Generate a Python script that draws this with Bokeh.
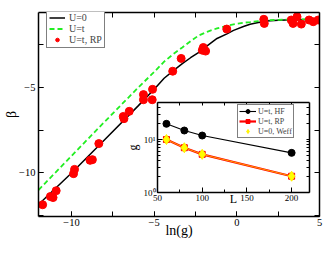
from bokeh.plotting import figure
from bokeh.layouts import column
from bokeh.models import (LinearAxis, LogAxis, FixedTicker, Legend, LegendItem)
from bokeh.embed import file_html
from bokeh.resources import INLINE

# ---- main panel data ----
lng_u0 = [-12, -10, -8, -6, -5, -4.4, -3.8, -3.3, -2.8, -2.3, -1.8, -1.2, -0.6, -0.2, 0.4, 0.8, 1.3, 1.8, 2.5, 3.5, 5]
beta_u0 = [-11.85, -10.0, -8.05, -6.1, -5.1, -4.45, -3.98, -3.6, -3.25, -2.93, -2.55, -2.12, -1.85, -1.65, -1.42, -1.29, -1.18, -1.1, -1.05, -1.02, -1.0]

lng_ut = [-12, -10, -8, -6, -5, -4.4, -3.8, -3.3, -2.8, -2.3, -1.8, -1.2, -0.6, -0.2, 0.4, 0.8, 1.3, 1.8, 2.5, 3.5, 5]
beta_ut = [-11.0, -9.0, -7.0, -5.03, -4.08, -3.48, -3.0, -2.65, -2.28, -1.94, -1.73, -1.53, -1.38, -1.29, -1.2, -1.16, -1.1, -1.06, -1.03, -1.01, -1.0]

lng_rp = [-11.75, -11.28, -11.12, -10.93, -9.82, -9.88, -8.88, -8.74, -8.35,
          -6.87, -6.83, -6.51, -5.65, -5.65, -5.10, -5.12,
          -3.88, -3.37, -2.03, -2.09, -1.89, -0.61, 1.63, 1.66, 3.29, 3.40, 3.64, 3.90, 4.37, 4.62, 4.92]
beta_rp = [-11.86, -11.38, -11.44, -11.04, -9.79, -10.04, -9.26, -9.22, -8.28,
           -6.69, -6.82, -6.39, -5.41, -5.71, -5.10, -5.71,
           -4.04, -3.29, -2.65, -2.81, -2.86, -1.57, -1.0, -1.24, -1.04, -1.24, -0.85, -1.28, -1.04, -1.14, -1.04]

# ---- inset data ----
L_vals = [60, 80, 100, 200]
g_hf = [19.8, 14.8, 11.9, 5.6]
g_rp = [10.0, 7.0, 5.25, 2.03]
g_weff = [10.0, 7.0, 5.25, 2.03]

# tick positions
main_x_ticks = [-10, -5, 0, 5]
main_y_ticks = [-10, -5]
main_x_minor = [-12.5, -10, -7.5, -5, -2.5, 0, 2.5, 5]
main_y_minor = [-12.5, -10, -7.5, -5, -2.5]
inset_x_ticks = [50, 100, 150, 200]
inset_x_minor = [50, 75, 100, 125, 150, 175, 200]
inset_y_ticks = [1, 10]
inset_y_minor = [2, 3, 4, 5, 6, 7, 8, 9, 20, 30, 40]

FONT = "Liberation Serif"

p = figure(width=325, height=247, x_range=(-12, 5), y_range=(-12.55, -0.6),
           output_backend="svg", toolbar_location=None,
           min_border_left=37, min_border_right=6, min_border_top=12, min_border_bottom=31)
p.grid.visible = False
p.outline_line_color = None
p.background_fill_color = "white"

def style_axis(ax, tick_in=5, font="10.5px", standoff=2):
    ax.axis_line_width = 1.5
    ax.axis_line_color = "black"
    ax.major_tick_in = tick_in
    ax.major_tick_out = 0
    ax.minor_tick_in = tick_in
    ax.minor_tick_out = 0
    ax.major_tick_line_color = "black"
    ax.minor_tick_line_color = "black"
    ax.major_label_text_font = FONT
    ax.major_label_text_font_size = font
    ax.major_label_text_color = "black"
    ax.major_label_standoff = standoff
    ax.axis_label_standoff = 0
    ax.axis_label_text_font = FONT
    ax.axis_label_text_font_style = "normal"
    ax.axis_label_text_color = "black"

p.xaxis.ticker = FixedTicker(ticks=main_x_ticks, minor_ticks=main_x_minor)
p.yaxis.ticker = FixedTicker(ticks=main_y_ticks, minor_ticks=main_y_minor)
for ax in p.xaxis + p.yaxis:
    style_axis(ax, standoff=3)
p.xaxis.major_label_standoff = 2
p.xaxis.axis_label = "ln(g)"
p.yaxis.axis_label = "β"
p.xaxis.axis_label_text_font_size = "14px"
p.yaxis.axis_label_text_font_size = "14px"
p.xaxis.axis_label_standoff = -6
p.yaxis.axis_label_standoff = -3

# mirror axes: ticks only (no labels)
top_ax = LinearAxis(ticker=FixedTicker(ticks=[], minor_ticks=main_x_minor))
right_ax = LinearAxis(ticker=FixedTicker(ticks=[], minor_ticks=main_y_minor))
style_axis(top_ax, standoff=0)
style_axis(right_ax, standoff=0)
p.add_layout(top_ax, "above")
p.add_layout(right_ax, "right")

r0 = p.line(lng_u0, beta_u0, line_color="black", line_width=1.5)
r1 = p.line(lng_ut, beta_ut, line_color="#22ee22", line_width=1.8, line_dash="5 3")
r2 = p.scatter(lng_rp, beta_rp, marker="circle", size=8, fill_color="#ff0000", line_color="#ff0000")

leg = Legend(items=[LegendItem(label="U=0", renderers=[r0]),
                    LegendItem(label="U=t", renderers=[r1]),
                    LegendItem(label="U=t, RP", renderers=[r2])],
             location=(8, 168))
leg.margin = 0
leg.padding = 2
leg.spacing = 0
leg.label_text_font = FONT
leg.label_text_font_size = "10px"
leg.label_height = 9
leg.glyph_height = 9
leg.glyph_width = 16
leg.label_standoff = 4
leg.border_line_color = "black"
leg.border_line_width = 1.2
leg.background_fill_alpha = 1
p.add_layout(leg)

# ---- inset ----
p2 = figure(width=196, height=110, x_range=(50, 220), y_range=(1, 50), y_axis_type="log",
            output_backend="svg", toolbar_location=None,
            min_border_left=38, min_border_right=4, min_border_top=4, min_border_bottom=16)
p2.grid.visible = False
p2.outline_line_color = None
p2.background_fill_color = "white"
p2.border_fill_color = None
p2.xaxis.ticker = FixedTicker(ticks=inset_x_ticks, minor_ticks=inset_x_minor)
p2.yaxis.ticker = FixedTicker(ticks=inset_y_ticks, minor_ticks=inset_y_minor)
for ax in p2.xaxis + p2.yaxis:
    style_axis(ax, tick_in=3, font="9px", standoff=2)
    ax.major_tick_in = 5
p2.yaxis.major_label_overrides = {1: "10⁰", 10: "10¹"}
p2.xaxis.axis_label = "L"
p2.yaxis.axis_label = "g"
p2.xaxis.axis_label_text_font_size = "12px"
p2.yaxis.axis_label_text_font_size = "12px"
p2.xaxis.axis_label_standoff = -12
p2.yaxis.axis_label_standoff = 1
t2 = LinearAxis(ticker=FixedTicker(ticks=[], minor_ticks=inset_x_minor))
style_axis(t2, tick_in=3, standoff=0)
p2.add_layout(t2, "above")
r2ax = LogAxis(ticker=FixedTicker(ticks=[], minor_ticks=inset_y_ticks + inset_y_minor))
style_axis(r2ax, tick_in=3, standoff=0)
p2.add_layout(r2ax, "right")

h1 = p2.line(L_vals, g_hf, line_color="black", line_width=1.1)
h1s = p2.scatter(L_vals, g_hf, marker="circle", size=7, fill_color="black", line_color="black")
h2 = p2.line(L_vals, g_rp, line_color="#ff0000", line_width=2.2)
h2s = p2.scatter(L_vals, g_rp, marker="square", size=6, fill_color="#ff0000", line_color="#ff0000")
h3 = p2.line(L_vals, g_weff, line_color="#ffcc00", line_width=0.8)
h3s = p2.scatter(L_vals, g_weff, marker="diamond", size=10, fill_color="#ffff00", line_color="#ffee00")

leg2 = Legend(items=[LegendItem(label="U=t, HF", renderers=[h1, h1s]),
                     LegendItem(label="U=t, RP", renderers=[h2, h2s]),
                     LegendItem(label="U=0, Weff", renderers=[h3s])],
              location=(80, 54))
leg2.margin = 0
leg2.padding = 1
leg2.spacing = 0
leg2.label_text_font = FONT
leg2.label_text_font_size = "8px"
leg2.label_height = 10
leg2.glyph_height = 10
leg2.glyph_width = 17
leg2.label_standoff = 2
leg2.border_line_color = "black"
leg2.border_line_width = 1.2
p2.add_layout(leg2)

p2.margin = (98 - 247, 0, 0, 119)
layout = column(p, p2)

open("out.html", "w").write(file_html(layout, INLINE))
